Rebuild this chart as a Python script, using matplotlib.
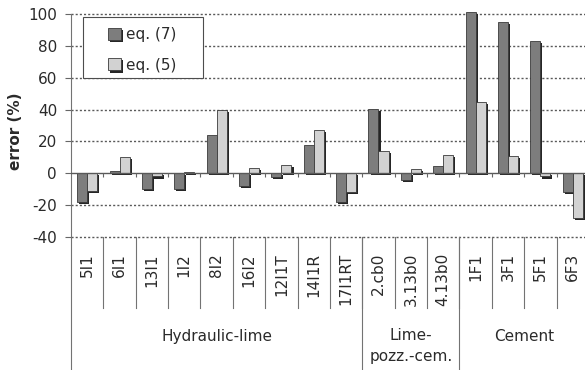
import numpy as np
import matplotlib.pyplot as plt
import matplotlib.patheffects as pe
from matplotlib.patches import Rectangle
from matplotlib.transforms import blended_transform_factory

plt.rcParams['font.family'] = ['DejaVu Sans']
plt.rcParams['axes.unicode_minus'] = False

muestras = ['5I1', '6I1', '13I1', '1I2', '8I2', '16I2', '12I1T', '14I1R', '17I1RT',
            '2.cb0', '3.13b0', '4.13b0', '1F1', '3F1', '5F1', '6F3']
eq7 = [-18, 1.5, -10, -10, 24, -8, -2.5, 18, -18, 40.5, -4, 4.5, 101.5, 95, 83, -12]
eq5 = [-11, 10, -2, 1, 39.5, 3.5, 5, 27, -11.5, 14, 2.5, 11.5, 44.5, 11, -2, -28]
grupos = ['Hydraulic-lime', 'Lime-\npozz.-cem.', 'Cement']
tam_grupos = [9, 3, 4]

txt = '#2a2a2a'
fs = 11

fig = plt.figure(figsize=(5.85, 3.70), dpi=100)
ax = fig.add_axes([71/585, (370-237)/370, 1 - 71/585, 223/370])

x = np.arange(len(muestras))
w = 0.31
sombra = [pe.SimplePatchShadow(offset=(1.5, -1.5), shadow_rgbFace='0.15', alpha=1), pe.Normal()]
b1 = ax.bar(x - w/2, eq7, w, color='#7d7d7d', edgecolor='#3a3a3a', lw=0.6, label='eq. (7)', zorder=3)
b2 = ax.bar(x + w/2, eq5, w, color='#d2d2d2', edgecolor='#3a3a3a', lw=0.6, label='eq. (5)', zorder=3)
for b in list(b1) + list(b2):
    b.set_path_effects(sombra)
    b.set_clip_on(False)

ax.set_ylim(-40, 100)
ax.set_xlim(-0.5, 15.38)
ax.set_yticks(np.arange(-40, 101, 20))
ax.tick_params(axis='y', labelsize=fs, length=4, pad=6, color='0.4', labelcolor=txt)
ax.set_xticks([])
# rejilla punteada (incluye -40 y 100)
for yv in np.arange(-40, 101, 20):
    if yv != 0:
        ax.axhline(yv, linestyle=(0, (1.5, 1.5)), color='0.35', lw=1, zorder=1, clip_on=False)
for s in ['top', 'right', 'bottom']:
    ax.spines[s].set_visible(False)
ax.spines['left'].set_color('0.45')
ax.spines['left'].set_bounds(-40, 100)
ax.axhline(0, color='0.35', lw=1, zorder=4)
ax.vlines(np.arange(0.5, 15.5, 1), -2.5, 0, color='0.4', lw=0.8, zorder=4)
ax.set_ylabel('error (%)', fontsize=fs, fontweight='bold', color=txt)
ax.yaxis.set_label_coords(-0.093, 0.475)

tr = blended_transform_factory(ax.transData, ax.transAxes)
for i, m in enumerate(muestras):
    ax.text(i, -0.072, m, rotation=90, ha='center', va='top', fontsize=fs,
            color=txt, transform=tr)
for b in np.arange(0.5, 15.5, 1):
    ax.plot([b, b], [0, -0.318], color='0.45', lw=0.8, transform=tr, clip_on=False)

inicio = -0.5
for g, n in zip(grupos, tam_grupos):
    ax.plot([inicio, inicio], [0, -0.7], color='0.45', lw=0.8, transform=tr, clip_on=False)
    centro = inicio + n/2
    if '\n' in g:
        ax.text(centro, -0.41, g, ha='center', va='top', fontsize=fs, color=txt,
                transform=tr, linespacing=1.45)
    else:
        ax.text(centro, -0.448, g, ha='center', va='center', fontsize=fs, color=txt,
                transform=tr)
    inicio += n

# recuadro de la leyenda
ax.add_patch(Rectangle((0.0233, 0.713), 0.2335, 0.2735, transform=ax.transAxes,
                       facecolor='white', edgecolor='0.3', lw=0.8, zorder=5, clip_on=False))
leg = ax.legend(loc='upper left', bbox_to_anchor=(0.072, 0.94), fontsize=fs,
                frameon=False, handlelength=0.85, handleheight=0.85,
                handletextpad=0.35, borderpad=0, labelspacing=1.0, borderaxespad=0)
leg.set_zorder(6)
for t in leg.get_texts():
    t.set_color(txt)

fig.savefig('out.png', dpi=100)
